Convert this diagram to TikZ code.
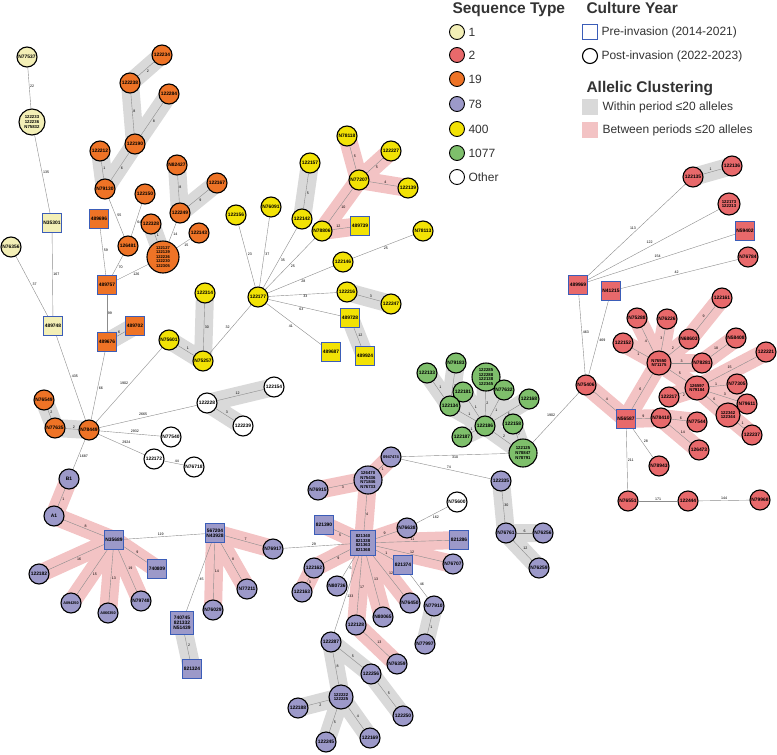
\documentclass[tikz,border=0pt]{standalone}
\usepackage{fontspec}
\setmainfont{Liberation Sans}
\usepackage{tikz}

\definecolor{stone}{HTML}{F3EFB6}
\definecolor{sttwo}{HTML}{E8696B}
\definecolor{stnineteen}{HTML}{EE7326}
\definecolor{stseventyeight}{HTML}{9C99C9}
\definecolor{stfourhundred}{HTML}{F2E205}
\definecolor{stgreen}{HTML}{7EBF6B}
\definecolor{preblue}{HTML}{3B5DB8}
\definecolor{bandgray}{HTML}{D9D9D9}
\definecolor{bandpink}{HTML}{F3C3C4}
\definecolor{linkgray}{HTML}{8C8C8C}
\definecolor{keytext}{HTML}{333333}

\pgfdeclarelayer{bands}
\pgfdeclarelayer{links}
\pgfsetlayers{bands,links,main}

\tikzset{
  post/.style={circle, draw=black, line width=1.1pt, minimum size=20pt, inner sep=0pt, align=center, font=\bfseries\fontsize{4.9}{5.1}\selectfont},
  pre/.style={rectangle, draw=preblue, line width=1.1pt, minimum size=19pt, inner sep=0pt, align=center, font=\bfseries\fontsize{4.9}{5.1}\selectfont},
  multi/.style={font=\bfseries\fontsize{4.3}{4.6}\selectfont},
  s1/.style={fill=stone},
  s2/.style={fill=sttwo},
  s19/.style={fill=stnineteen},
  s78/.style={fill=stseventyeight},
  s400/.style={fill=stfourhundred},
  s1077/.style={fill=stgreen},
  sother/.style={fill=white},
  link/.style={draw=linkgray, line width=0.4pt},
  lbl/.style={font=\fontsize{3.6}{4}\selectfont, inner sep=0.6pt, auto},
  within/.style={draw=bandgray, line width=18pt, line cap=round, line join=round},
  between/.style={draw=bandpink, line width=18pt, line cap=round, line join=round},
  keytitle/.style={anchor=base west, text=keytext, font=\bfseries\fontsize{15.5}{17}\selectfont},
  keyitem/.style={anchor=west, text=keytext, font=\fontsize{12}{14}\selectfont}
}

\begin{document}
\begin{tikzpicture}[x=1pt, y=-1pt]
\useasboundingbox (0,0) rectangle (777,755);

% ST 1
\node[post, s1] (N77537) at (27,57) {N77537};
\node[post, s1, multi, minimum size=26pt] (m122233) at (32,122) {122233\\122236\\N75832};
\node[pre, s1] (N35301) at (52,223) {N35301};
\node[post, s1] (N76356) at (11,247) {N76356};
\node[pre, s1] (n489748) at (53,326) {489748};

% ST 19
\node[post, s19] (n122234) at (162,55) {122234};
\node[post, s19] (n122238) at (130,83) {122238};
\node[post, s19] (n122284) at (169,94) {122284};
\node[post, s19] (n122190) at (135,144) {122190};
\node[post, s19] (n122212) at (100,151) {122212};
\node[post, s19] (N79130) at (105,189) {N79130};
\node[post, s19] (n122150) at (145,194) {122150};
\node[post, s19] (N82427) at (177,165) {N82427};
\node[post, s19] (n122167) at (217,183) {122167};
\node[post, s19] (n122249) at (180,213) {122249};
\node[pre, s19] (n489696) at (99,219) {489696};
\node[post, s19] (n122328) at (151,224) {122328};
\node[post, s19] (n122143) at (199,233) {122143};
\node[post, s19] (n126481) at (128,246) {126481};
\node[post, s19, font=\bfseries\fontsize{4.1}{4.5}\selectfont, minimum size=32pt] (m122127) at (163,257) {122127\\122129\\122226\\122230\\122305};
\node[pre, s19] (n489757) at (107,285) {489757};
\node[pre, s19] (n489702) at (135,326) {489702};
\node[pre, s19] (n489676) at (107,342) {489676};
\node[post, s19] (N76549) at (44,400) {N76549};
\node[post, s19] (N77635) at (55,428) {N77635};
\node[post, s19] (N78449) at (89,430) {N78449};

% ST 400
\node[post, s400] (n122156) at (236,215) {122156};
\node[post, s400] (N76091) at (271,207) {N76091};
\node[post, s400] (n122157) at (310,163) {122157};
\node[post, s400] (n122142) at (302,219) {122142};
\node[post, s400] (N78118) at (347,136) {N78118};
\node[post, s400] (n122227) at (391,151) {122227};
\node[post, s400] (N77207) at (359,180) {N77207};
\node[post, s400] (n122139) at (408,188) {122139};
\node[post, s400] (N78806) at (322,231) {N78806};
\node[pre, s400] (n489739) at (360,226) {489739};
\node[post, s400] (N78113) at (423,231) {N78113};
\node[post, s400] (n122146) at (343,262) {122146};
\node[post, s400] (n122177) at (258,297) {122177};
\node[post, s400] (n122216) at (347,292) {122216};
\node[post, s400] (n122247) at (391,304) {122247};
\node[pre, s400] (n489728) at (350,318) {489728};
\node[pre, s400] (n489687) at (331,352) {489687};
\node[pre, s400] (n489924) at (365,356) {489924};
\node[post, s400] (n122314) at (205,293) {122314};
\node[post, s400] (N75601) at (169,340) {N75601};
\node[post, s400] (N75257) at (203,361) {N75257};

% other
\node[post, sother] (n122228) at (207,403) {122228};
\node[post, sother] (n122239) at (243,426) {122239};
\node[post, sother] (n122154) at (274,387) {122154};
\node[post, sother] (N77540) at (171,437) {N77540};
\node[post, sother] (n122172) at (154,459) {122172};
\node[post, sother] (N76718) at (194,467) {N76718};
\node[post, sother] (N75600) at (457,502) {N75600};

% ST 1077
\node[post, s1077] (n122133) at (427,373) {122133};
\node[post, s1077] (N79183) at (456,363) {N79183};
\node[post, s1077] (n122181) at (463,392) {122181};
\node[post, s1077] (n122134) at (450,406) {122134};
\node[post, s1077, multi, minimum size=28pt] (m122285) at (486,377) {122285\\122288\\122138\\122345};
\node[post, s1077] (N77632) at (504,390) {N77632};
\node[post, s1077] (n122186) at (485,426) {122186};
\node[post, s1077] (n122168) at (529,399) {122168};
\node[post, s1077] (n122158) at (513,424) {122158};
\node[post, s1077] (n122187) at (462,437) {122187};
\node[post, s1077, multi, minimum size=28pt] (m122125) at (523,453) {122125\\N78847\\N78791};

% ST 78
\node[post, s78] (B1) at (69,479) {B1};
\node[post, s78] (A1) at (54,516) {A1};
\node[pre, s78] (N35689) at (114,540) {N35689};
\node[post, s78] (n122182) at (39,574) {122182};
\node[post, s78, font=\bfseries\fontsize{3.8}{4}\selectfont] (A094250) at (71,603) {A094250};
\node[post, s78, font=\bfseries\fontsize{3.8}{4}\selectfont] (A066350) at (108,613) {A066350};
\node[post, s78] (N79748) at (141,601) {N79748};
\node[pre, s78] (n740809) at (157,569) {740809};
\node[pre, s78] (n567204) at (215,533) {567204\\N43928};
\node[post, s78] (N76029) at (213,610) {N76029};
\node[post, s78] (N77211) at (247,589) {N77211};
\node[pre, s78, minimum size=23pt] (n740745) at (182,623) {740745\\821332\\N51439};
\node[pre, s78] (n821324) at (192,669) {821324};
\node[post, s78] (N76917) at (273,549) {N76917};
\node[post, s78, font=\bfseries\fontsize{4}{4.4}\selectfont] (n0947474) at (391,457) {0947474};
\node[post, s78, multi, minimum size=28pt] (m126470) at (368,480) {126470\\N75436\\N71846\\N76733};
\node[post, s78] (N76915) at (318,490) {N76915};
\node[pre, s78, multi, minimum size=25pt] (n821340) at (363,543) {821340\\821338\\821363\\821368};
\node[pre, s78] (n821390) at (324,525) {821390};
\node[post, s78] (N76638) at (407,528) {N76638};
\node[pre, s78] (n821286) at (459,540) {821286};
\node[post, s78] (N76707) at (453,564) {N76707};
\node[pre, s78] (n821374) at (403,565) {821374};
\node[post, s78] (N77910) at (434,606) {N77910};
\node[post, s78] (N77997) at (425,644) {N77997};
\node[post, s78] (N76450) at (410,603) {N76450};
\node[post, s78] (N80065) at (383,617) {N80065};
\node[post, s78] (n122128) at (356,625) {122128};
\node[post, s78] (N76359) at (397,664) {N76359};
\node[post, s78] (N80736) at (337,586) {N80736};
\node[post, s78] (n122162) at (314,568) {122162};
\node[post, s78] (n122163) at (302,592) {122163};
\node[post, s78] (n122287) at (331,642) {122287};
\node[post, s78] (n122256) at (371,674) {122256};
\node[post, s78] (n122250) at (403,716) {122250};
\node[post, s78, multi, minimum size=24pt] (m122222) at (341,697) {122222\\122225};
\node[post, s78] (n122188) at (298,708) {122188};
\node[post, s78] (n122245) at (326,742) {122245};
\node[post, s78] (n122169) at (370,738) {122169};
\node[post, s78] (n122335) at (501,481) {122335};
\node[post, s78] (N76761) at (506,533) {N76761};
\node[post, s78] (N76256) at (543,533) {N76256};
\node[post, s78] (N76259) at (539,568) {N76259};

% ST 2
\node[pre, s2] (n489969) at (578,285) {489969};
\node[pre, s2] (N41215) at (611,291) {N41215};
\node[post, s2] (n122135) at (693,177) {122135};
\node[post, s2] (n122136) at (732,166) {122136};
\node[post, s2, multi, minimum size=22pt] (m122173) at (729,204) {122173\\122213};
\node[pre, s2] (N59402) at (745,231) {N59402};
\node[post, s2] (N76784) at (748,257) {N76784};
\node[post, s2] (N75406) at (586,385) {N75406};
\node[pre, s2] (N56587) at (626,419) {N56587};
\node[post, s2, multi, minimum size=24pt] (m76550) at (659,363) {N76550\\N71175};
\node[post, s2] (N75288) at (637,318) {N75288};
\node[post, s2] (N76226) at (667,319) {N76226};
\node[post, s2] (n122152) at (623,343) {122152};
\node[post, s2] (N68603) at (689,339) {N68603};
\node[post, s2] (n122161) at (722,298) {122161};
\node[post, s2] (N58408) at (736,338) {N58408};
\node[post, s2] (N78281) at (702,363) {N78281};
\node[post, s2] (n122221) at (766,352) {122221};
\node[post, s2, multi, minimum size=24pt] (m126597) at (697,388) {126597\\N79184};
\node[post, s2] (N77305) at (737,384) {N77305};
\node[post, s2] (N79611) at (747,404) {N79611};
\node[post, s2] (n122217) at (669,397) {122217};
\node[post, s2, multi, minimum size=24pt] (m122342) at (728,415) {122342\\122344};
\node[post, s2] (n122237) at (752,435) {122237};
\node[post, s2] (N78410) at (661,418) {N78410};
\node[post, s2] (N77544) at (697,422) {N77544};
\node[post, s2] (n126473) at (699,450) {126473};
\node[post, s2] (N78943) at (659,466) {N78943};
\node[post, s2] (N76551) at (628,501) {N76551};
\node[post, s2] (n122444) at (688,501) {122444};
\node[post, s2] (N79968) at (760,500) {N79968};

\begin{pgfonlayer}{bands}
\fill[white] (0,0) rectangle (777,755);
\draw[within] (n122234.center) -- (n122238.center) -- (n122190.center) -- (N79130.center) -- (n122212.center);
\draw[within] (n122284.center) -- (n122190.center);
\draw[within] (N82427.center) -- (n122249.center) -- (n122167.center);
\draw[within] (n122328.center) -- (m122127.center);
\draw[within] (n489676.center) -- (n489702.center);
\draw[within] (N76549.center) -- (N77635.center) -- (N78449.center);
\draw[within] (n122157.center) -- (n122142.center);
\draw[within] (n122216.center) -- (n122247.center);
\draw[within] (n489728.center) -- (n489924.center);
\draw[within] (n122314.center) -- (N75257.center) -- (N75601.center);
\draw[within] (n122154.center) -- (n122228.center) -- (n122239.center);
\draw[within] (n122133.center) -- (n122134.center) -- (n122186.center) -- (m122125.center) -- (n122158.center);
\draw[within] (N79183.center) -- (n122134.center);
\draw[within] (n122181.center) -- (n122186.center) -- (m122285.center);
\draw[within] (N77632.center) -- (n122186.center) -- (n122168.center);
\draw[within] (n122187.center) -- (n122186.center);
\draw[within] (n740745.center) -- (n821324.center);
\draw[within] (N77910.center) -- (N77997.center);
\draw[within] (n122250.center) -- (n122256.center) -- (n122287.center) -- (m122222.center) -- (n122188.center);
\draw[within] (n122245.center) -- (m122222.center) -- (n122169.center);
\draw[within] (n122335.center) -- (N76761.center) -- (N76256.center);
\draw[within] (N76761.center) -- (N76259.center);
\draw[within] (n122135.center) -- (n122136.center);
\draw[between] (N78118.center) -- (N77207.center) -- (n122227.center);
\draw[between] (n122139.center) -- (N77207.center) -- (N78806.center) -- (n489739.center);
\draw[between] (B1.center) -- (A1.center) -- (N35689.center) -- (n122182.center);
\draw[between] (A094250.center) -- (N35689.center) -- (A066350.center);
\draw[between] (N79748.center) -- (N35689.center) -- (n740809.center);
\draw[between] (N76029.center) -- (n567204.center) -- (N77211.center);
\draw[between] (n567204.center) -- (N76917.center);
\draw[between] (n0947474.center) -- (m126470.center) -- (N76915.center);
\draw[between] (m126470.center) -- (n821340.center) -- (n821390.center);
\draw[between] (N76638.center) -- (n821340.center) -- (n821286.center);
\draw[between] (N76707.center) -- (n821340.center) -- (n821374.center);
\draw[between] (N76450.center) -- (n821340.center) -- (N80065.center);
\draw[between] (N76359.center) -- (n122128.center) -- (n821340.center) -- (n122162.center) -- (n122163.center);
\draw[between] (N75406.center) -- (N56587.center) -- (m76550.center) -- (N75288.center);
\draw[between] (N76226.center) -- (m76550.center) -- (n122152.center);
\draw[between] (n122161.center) -- (N68603.center) -- (m76550.center) -- (N78281.center) -- (N58408.center);
\draw[between] (m76550.center) -- (m126597.center) -- (n122221.center);
\draw[between] (N77305.center) -- (m126597.center) -- (N79611.center);
\draw[between] (n122217.center) -- (m126597.center) -- (m122342.center) -- (n122237.center);
\draw[between] (N56587.center) -- (N78410.center) -- (N77544.center);
\draw[between] (N78410.center) -- (n126473.center);
\end{pgfonlayer}

\begin{pgfonlayer}{links}
% ST 1 and 19
\draw[link] (N77537) -- node[lbl] {22} (m122233);
\draw[link] (m122233) -- node[lbl] {135} (N35301);
\draw[link] (N35301) -- node[lbl] {167} (n489748);
\draw[link] (N76356) -- node[lbl] {37} (n489748);
\draw[link] (n489748) -- node[lbl] {435} (N78449);
\draw[link] (n122234) -- node[lbl] {2} (n122238);
\draw[link] (n122238) -- node[lbl] {8} (n122190);
\draw[link] (n122284) -- node[lbl] {8} (n122190);
\draw[link] (n122190) -- node[lbl] {6} (N79130);
\draw[link] (n122212) -- node[lbl] {1} (N79130);
\draw[link] (N79130) -- node[lbl] {55} (n126481);
\draw[link] (n122150) -- node[lbl] {64} (n126481);
\draw[link] (N82427) -- node[lbl] {8} (n122249);
\draw[link] (n122167) -- node[lbl] {9} (n122249);
\draw[link] (n122328) -- node[lbl] {1} (m122127);
\draw[link] (n122249) -- node[lbl] {14} (m122127);
\draw[link] (n122143) -- node[lbl] {15} (m122127);
\draw[link] (n489696) -- node[lbl] {59} (n489757);
\draw[link] (n126481) -- node[lbl] {70} (n489757);
\draw[link] (m122127) -- node[lbl] {126} (n489757);
\draw[link] (n489757) -- node[lbl] {99} (n489676);
\draw[link] (n489676) -- node[lbl] {6} (n489702);
\draw[link] (n489676) -- node[lbl] {66} (N78449);
\draw[link] (N76549) -- node[lbl] {2} (N77635);
\draw[link] (N77635) -- node[lbl] {2} (N78449);
\draw[link] (N78449) -- node[lbl] {1902} (N75601);
\draw[link] (N78449) -- node[lbl] {2665} (n122228);
\draw[link] (N78449) -- node[lbl] {2932} (N77540);
\draw[link] (N78449) -- node[lbl] {2924} (n122172);
\draw[link] (n122172) -- node[lbl] {44} (N76718);
\draw[link] (n122228) -- node[lbl] {3} (n122239);
\draw[link] (n122228) -- node[lbl] {12} (n122154);
\draw[link] (N78449) -- node[lbl] {1687} (B1);
% ST 400
\draw[link] (n122157) -- node[lbl] {5} (n122142);
\draw[link] (N78118) -- node[lbl] {5} (N77207);
\draw[link] (n122227) -- node[lbl] {5} (N77207);
\draw[link] (N77207) -- node[lbl] {4} (n122139);
\draw[link] (N77207) -- node[lbl] {10} (N78806);
\draw[link] (N78806) -- node[lbl] {12} (n489739);
\draw[link] (N78113) -- node[lbl] {25} (n122146);
\draw[link] (n122156) -- node[lbl] {23} (n122177);
\draw[link] (N76091) -- node[lbl] {37} (n122177);
\draw[link] (n122142) -- node[lbl] {35} (n122177);
\draw[link] (N78806) -- node[lbl] {25} (n122177);
\draw[link] (n122146) -- node[lbl] {28} (n122177);
\draw[link] (n122216) -- node[lbl] {33} (n122177);
\draw[link] (n489728) -- node[lbl] {63} (n122177);
\draw[link] (n489687) -- node[lbl] {41} (n122177);
\draw[link] (N75257) -- node[lbl] {32} (n122177);
\draw[link] (n122216) -- node[lbl] {3} (n122247);
\draw[link] (n489728) -- node[lbl] {12} (n489924);
\draw[link] (n122314) -- node[lbl] {30} (N75257);
\draw[link] (N75601) -- node[lbl] {1} (N75257);
% ST 1077
\draw[link] (n122133) -- node[lbl] {1} (n122134);
\draw[link] (N79183) -- node[lbl] {3} (n122134);
\draw[link] (n122134) -- node[lbl] {1} (n122186);
\draw[link] (n122181) -- node[lbl] {1} (n122186);
\draw[link] (m122285) -- node[lbl] {2} (n122186);
\draw[link] (N77632) -- node[lbl] {1} (n122186);
\draw[link] (n122168) -- node[lbl] {5} (n122186);
\draw[link] (n122187) -- node[lbl] {1} (n122186);
\draw[link] (n122186) -- node[lbl] {2} (m122125);
\draw[link] (n122158) -- node[lbl] {7} (m122125);
\draw[link] (m122125) -- node[lbl] {310} (n0947474);
\draw[link] (m122125) -- node[lbl] {1902} (N75406);
% ST 78
\draw[link] (B1) -- node[lbl] {1} (A1);
\draw[link] (A1) -- node[lbl] {8} (N35689);
\draw[link] (N35689) -- node[lbl] {16} (n122182);
\draw[link] (N35689) -- node[lbl] {15} (A094250);
\draw[link] (N35689) -- node[lbl] {13} (A066350);
\draw[link] (N35689) -- node[lbl] {19} (N79748);
\draw[link] (N35689) -- node[lbl] {9} (n740809);
\draw[link] (N35689) -- node[lbl] {119} (n567204);
\draw[link] (n567204) -- node[lbl] {14} (N76029);
\draw[link] (n567204) -- node[lbl] {8} (N77211);
\draw[link] (n567204) -- node[lbl] {45} (n740745);
\draw[link] (n740745) -- node[lbl] {2} (n821324);
\draw[link] (n567204) -- node[lbl] {7} (N76917);
\draw[link] (N76917) -- node[lbl] {29} (n821340);
\draw[link] (n0947474) -- node[lbl] {1} (m126470);
\draw[link] (m126470) -- node[lbl] {3} (N76915);
\draw[link] (m126470) -- node[lbl] {4} (n821340);
\draw[link] (n821340) -- node[lbl] {5} (n821390);
\draw[link] (n821340) -- node[lbl] {9} (N76638);
\draw[link] (N75600) -- node[lbl] {162} (N76638);
\draw[link] (n821340) -- node[lbl] {11} (n821286);
\draw[link] (n821340) -- node[lbl] {12} (N76707);
\draw[link] (n821340) -- node[lbl] {1} (n821374);
\draw[link] (n821374) -- node[lbl] {46} (N77910);
\draw[link] (N77910) -- node[lbl] {1} (N77997);
\draw[link] (n821340) -- node[lbl] {12} (N76450);
\draw[link] (n821340) -- node[lbl] {13} (N80065);
\draw[link] (n821340) -- node[lbl] {17} (n122128);
\draw[link] (n122128) -- node[lbl] {13} (N76359);
\draw[link] (n821340) -- node[lbl] {5} (N80736);
\draw[link] (n821340) -- node[lbl] {9} (n122162);
\draw[link] (n122162) -- node[lbl] {3} (n122163);
\draw[link] (n821340) -- node[lbl] {133} (n122287);
\draw[link] (n122287) -- node[lbl] {5} (n122256);
\draw[link] (n122256) -- node[lbl] {5} (n122250);
\draw[link] (n122287) -- node[lbl] {8} (m122222);
\draw[link] (m122222) -- node[lbl] {2} (n122188);
\draw[link] (m122222) -- node[lbl] {5} (n122245);
\draw[link] (m122222) -- node[lbl] {4} (n122169);
\draw[link] (n0947474) -- node[lbl] {74} (n122335);
\draw[link] (n122335) -- node[lbl] {30} (N76761);
\draw[link] (N76761) -- node[lbl] {6} (N76256);
\draw[link] (N76761) -- node[lbl] {12} (N76259);
% ST 2
\draw[link] (n489969) -- node[lbl] {113} (n122135);
\draw[link] (n489969) -- node[lbl] {122} (m122173);
\draw[link] (n489969) -- node[lbl] {154} (N59402);
\draw[link] (N41215) -- node[lbl] {42} (N76784);
\draw[link] (n122135) -- node[lbl] {1} (n122136);
\draw[link] (n489969) -- node[lbl] {463} (N75406);
\draw[link] (N41215) -- node[lbl] {469} (N75406);
\draw[link] (N75406) -- node[lbl] {4} (N56587);
\draw[link] (N56587) -- node[lbl] {6} (m76550);
\draw[link] (m76550) -- node[lbl] {4} (N75288);
\draw[link] (m76550) -- node[lbl] {3} (N76226);
\draw[link] (m76550) -- node[lbl] {1} (n122152);
\draw[link] (m76550) -- node[lbl] {2} (N68603);
\draw[link] (N68603) -- node[lbl] {9} (n122161);
\draw[link] (m76550) -- node[lbl] {3} (N78281);
\draw[link] (N78281) -- node[lbl] {18} (N58408);
\draw[link] (m76550) -- node[lbl] {5} (m126597);
\draw[link] (m126597) -- node[lbl] {15} (n122221);
\draw[link] (m126597) -- node[lbl] {1} (N77305);
\draw[link] (m126597) -- node[lbl] {3} (N79611);
\draw[link] (m126597) -- node[lbl] {2} (n122217);
\draw[link] (m126597) -- node[lbl] {6} (m122342);
\draw[link] (m122342) -- node[lbl] {1} (n122237);
\draw[link] (N56587) -- node[lbl] {9} (N78410);
\draw[link] (N78410) -- node[lbl] {6} (N77544);
\draw[link] (N78410) -- node[lbl] {14} (n126473);
\draw[link] (N56587) -- node[lbl] {28} (N78943);
\draw[link] (N56587) -- node[lbl] {211} (N76551);
\draw[link] (N76551) -- node[lbl] {171} (n122444);
\draw[link] (n122444) -- node[lbl] {144} (N79968);
\end{pgfonlayer}

% legend
\node[keytitle] (stitle) at (449,13.5) {Sequence Type};
\foreach \y/\c/\t in {32/stone/1, 55/sttwo/2, 79/stnineteen/19, 104/stseventyeight/78, 129/stfourhundred/400, 153/stgreen/1077, 177/white/Other} {
  \node[circle, draw=black, line width=0.9pt, minimum size=15pt, inner sep=0pt, fill=\c] (key\t) at (457,\y) {};
  \node[keyitem] at (465,\y) {\t};
}
\node[keytitle] (ctitle) at (583,13.5) {Culture Year};
\node[rectangle, draw=preblue, line width=1.1pt, minimum size=15pt, inner sep=0pt] (keypre) at (590,32) {};
\node[keyitem] at (598,32) {Pre-invasion (2014-2021)};
\node[circle, draw=black, line width=1.1pt, minimum size=15pt, inner sep=0pt] (keypost) at (590,56) {};
\node[keyitem] at (598,56) {Post-invasion (2022-2023)};
\node[keytitle] (atitle) at (583,92) {Allelic Clustering};
\node[fill=bandgray, minimum size=16pt, inner sep=0pt] (keywithin) at (590,107) {};
\node[keyitem] at (599,107) {Within period ≤20 alleles};
\node[fill=bandpink, minimum size=16pt, inner sep=0pt] (keybetween) at (590,130) {};
\node[keyitem] at (599,130) {Between periods ≤20 alleles};
\end{tikzpicture}
\end{document}
